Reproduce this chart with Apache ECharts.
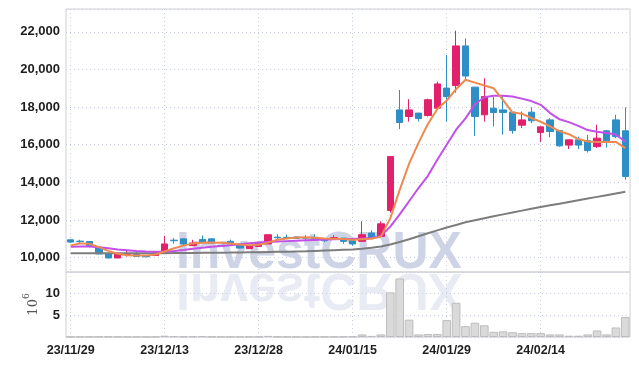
<!DOCTYPE html>
<html><head><meta charset="utf-8">
<script src="https://cdn.jsdelivr.net/npm/echarts@6/dist/echarts.min.js"></script>
<style>html,body{margin:0;padding:0;background:#fff}#c{width:639px;height:366px}</style>
</head><body><div id="c"></div>
<script>
const dates = ['23/11/29','23/11/30','23/12/01','23/12/04','23/12/05','23/12/06','23/12/07','23/12/08','23/12/11','23/12/12',
'23/12/13','23/12/14','23/12/15','23/12/18','23/12/19','23/12/20','23/12/21','23/12/22','23/12/26','23/12/27',
'23/12/28','24/01/02','24/01/03','24/01/04','24/01/05','24/01/08','24/01/09','24/01/10','24/01/11','24/01/12',
'24/01/15','24/01/16','24/01/17','24/01/18','24/01/19','24/01/22','24/01/23','24/01/24','24/01/25','24/01/26',
'24/01/29','24/01/30','24/01/31','24/02/01','24/02/02','24/02/05','24/02/06','24/02/07','24/02/08','24/02/13',
'24/02/14','24/02/15','24/02/16','24/02/19','24/02/20','24/02/21','24/02/22','24/02/23','24/02/26','24/02/27'];
const opens = [10950,10880,10860,10550,10200,9985,10180,10200,10120,10120,
10250,10930,11000,10640,10970,11000,10660,10870,10690,10480,
10600,10730,11090,11080,11100,11060,11080,10990,10990,11040,
10900,10870,11310,11130,12510,17850,17500,17680,17550,17940,
19010,19140,21250,19060,17590,17940,17850,17730,17040,17730,
16650,17320,16750,15980,16260,16210,15900,16740,17320,16740];
const closes = [10830,10850,10650,10200,9985,10200,10210,10070,10050,10260,
10730,10900,10730,10780,10830,10780,10600,10730,10510,10650,
10740,11220,11060,11060,11030,11040,10950,10900,11070,10870,
10730,11220,11050,11800,15370,17180,17850,17390,18390,19230,
18560,21250,19650,17500,18560,17710,17710,16750,17320,17270,
16950,16700,15940,16260,15980,15690,16350,16210,16430,14310];
const lows = [10780,10780,10550,10180,9970,9980,10060,10050,10020,10110,
10230,10740,10650,10620,10800,10770,10580,10720,10500,10470,
10590,10720,10980,10990,11020,10920,10940,10820,10980,10740,
10640,10860,11040,11120,12400,16830,17230,17230,17500,17900,
17230,18770,19480,16470,17230,16970,16530,16580,16880,17150,
16150,16400,15900,15770,15770,15590,15820,15850,16350,14140];
const highs = [10960,10950,10880,10560,10200,10210,10360,10320,10140,10270,
11160,11040,11010,10950,11180,11010,10680,10960,10700,10660,
10800,11230,11250,11230,11110,11200,11240,11000,11190,11050,
10910,11930,11450,11930,15400,18910,18420,17700,18450,19350,
20770,22060,21650,19080,19530,18530,18590,17740,17760,17990,
16960,17410,16760,16270,16430,16520,17060,16790,17590,17990];
const ma5 = [10650,10760,10740,10560,10360,10210,10130,10110,10110,10170,
10330,10500,10640,10760,10790,10810,10800,10760,10700,10660,
10690,10800,10950,11020,11070,11090,11060,11020,11010,10990,
10950,10980,11010,11120,12100,13600,15000,16100,17100,17900,
18350,18950,19450,19300,19150,19000,18370,17710,17650,17420,
17220,16980,16720,16560,16300,16170,16140,16140,16150,15820];
const ma20 = [10580,10600,10600,10560,10500,10440,10400,10360,10330,10310,
10320,10360,10410,10470,10530,10580,10620,10660,10720,10770,
10810,10840,10860,10880,10900,10920,10940,10960,10980,10990,
11000,11020,11050,11150,11650,12300,13000,13700,14350,15200,
16000,16800,17400,18150,18520,18600,18600,18560,18450,18320,
18120,17680,17350,17200,17000,16780,16690,16620,16540,16160];
const ma60 = [10230,10230,10230,10230,10230,10230,10230,10230,10235,10240,
10240,10245,10250,10255,10260,10260,10265,10270,10280,10285,
10290,10300,10310,10320,10330,10340,10360,10380,10400,10420,
10440,10480,10530,10600,10700,10830,10980,11140,11300,11450,
11600,11740,11880,11990,12100,12200,12300,12400,12500,12600,
12690,12780,12870,12960,13050,13140,13230,13320,13410,13500];
const volumes = [0.05,0.04,0.06,0.08,0.1,0.07,0.05,0.04,0.03,0.05,
0.3,0.2,0.1,0.15,0.2,0.1,0.05,0.06,0.05,0.06,
0.08,0.25,0.08,0.06,0.05,0.05,0.06,0.05,0.07,0.1,
0.12,0.6,0.25,0.6,10.3,13.5,4.0,0.6,0.7,0.7,
3.9,7.9,2.5,3.3,2.7,1.2,1.3,1.1,0.9,0.9,
0.9,0.6,0.6,0.3,0.3,0.6,1.5,0.6,2.2,4.6];

const candleData = opens.map((o,i)=>[o, closes[i], lows[i], highs[i]]);
const UP = '#e3206b', DOWN = '#2e8fc6';
const labelFont = "'Liberation Sans',Arial,sans-serif";
const gridLine = {show:true, lineStyle:{color:'#c6cbdd', type:[1,3], width:1}};

const chart = echarts.init(document.getElementById('c'));
chart.setOption({
  animation:false,
  backgroundColor:'#fff',
  grid:[
    {left:66, right:9, top:9, height:263, show:true, borderColor:'#d0d0d0', borderWidth:1, backgroundColor:'transparent'},
    {left:66, right:9, top:272, height:65, show:true, borderColor:'#d0d0d0', borderWidth:1, backgroundColor:'transparent'}
  ],
  xAxis:[
    {type:'category', data:dates, gridIndex:0, boundaryGap:true,
     axisLine:{show:false}, axisTick:{show:false}, axisLabel:{show:false},
     splitLine:Object.assign({interval:9, alignWithLabel:true}, gridLine)},
    {type:'category', data:dates, gridIndex:1, boundaryGap:true,
     axisLine:{show:false}, axisTick:{show:false},
     axisLabel:{interval:9, color:'#1e1e1e', fontFamily:labelFont, fontSize:12.5, fontWeight:'bold', margin:7},
     splitLine:Object.assign({interval:9, alignWithLabel:true}, gridLine)}
  ],
  yAxis:[
    {type:'value', gridIndex:0, min:9240, max:23210, splitNumber:7, minInterval:2000, maxInterval:2000,
     axisLine:{show:false}, axisTick:{show:false},
     axisLabel:{showMinLabel:false, showMaxLabel:false, color:'#1e1e1e', fontFamily:labelFont, fontSize:13, fontWeight:'bold', margin:6,
       formatter:v=>v.toLocaleString('en-US')},
     splitLine:gridLine},
    {type:'value', gridIndex:1, min:0, max:15, interval:5,
     axisLine:{show:false}, axisTick:{show:false},
     axisLabel:{showMinLabel:false, showMaxLabel:false, color:'#1e1e1e', fontFamily:labelFont, fontSize:13, fontWeight:'bold', margin:6},
     splitLine:gridLine,
     name:'{a|10}{b|6}', nameLocation:'middle', nameRotate:90, nameGap:26, nameMoveOverlap:false,
     nameTextStyle:{rich:{a:{fontSize:13, color:'#555', fontFamily:'DejaVu Serif', lineHeight:18, verticalAlign:'bottom'},
                          b:{fontSize:9, color:'#555', fontFamily:'DejaVu Serif', lineHeight:18, verticalAlign:'top'}}}}
  ],
  graphic:[
    {type:'text', x:176, y:228, z:-10, silent:true, scaleX:0.96,
     style:{text:'InvestCRUX', font:'bold 52px "Liberation Sans"', fill:'rgba(185,194,220,0.7)', verticalAlign:'top'}},
    {type:'text', x:176, y:314, z:-10, silent:true, scaleX:0.96, scaleY:-1,
     style:{text:'InvestCRUX', font:'bold 52px "Liberation Sans"', verticalAlign:'top', fill:'rgba(200,207,228,0.42)'}}
  ],
  series:[
    {type:'candlestick', xAxisIndex:0, yAxisIndex:0, data:candleData, barWidth:7, z:3,
     itemStyle:{color:UP, color0:DOWN, borderColor:UP, borderColor0:DOWN, borderWidth:1}},
    {type:'line', xAxisIndex:0, yAxisIndex:0, data:ma60, symbol:'none', z:4, lineStyle:{color:'#7d7d7d', width:2}},
    {type:'line', xAxisIndex:0, yAxisIndex:0, data:ma20, symbol:'none', z:4, lineStyle:{color:'#c24fe8', width:2}},
    {type:'line', xAxisIndex:0, yAxisIndex:0, data:ma5, symbol:'none', z:4, lineStyle:{color:'#ee8a50', width:2}},
    {type:'bar', xAxisIndex:1, yAxisIndex:1, data:volumes, barCategoryGap:'8%', z:3,
     itemStyle:{color:'#dadada', borderColor:'#bdbdbd', borderWidth:1}}
  ]
});
</script></body></html>
